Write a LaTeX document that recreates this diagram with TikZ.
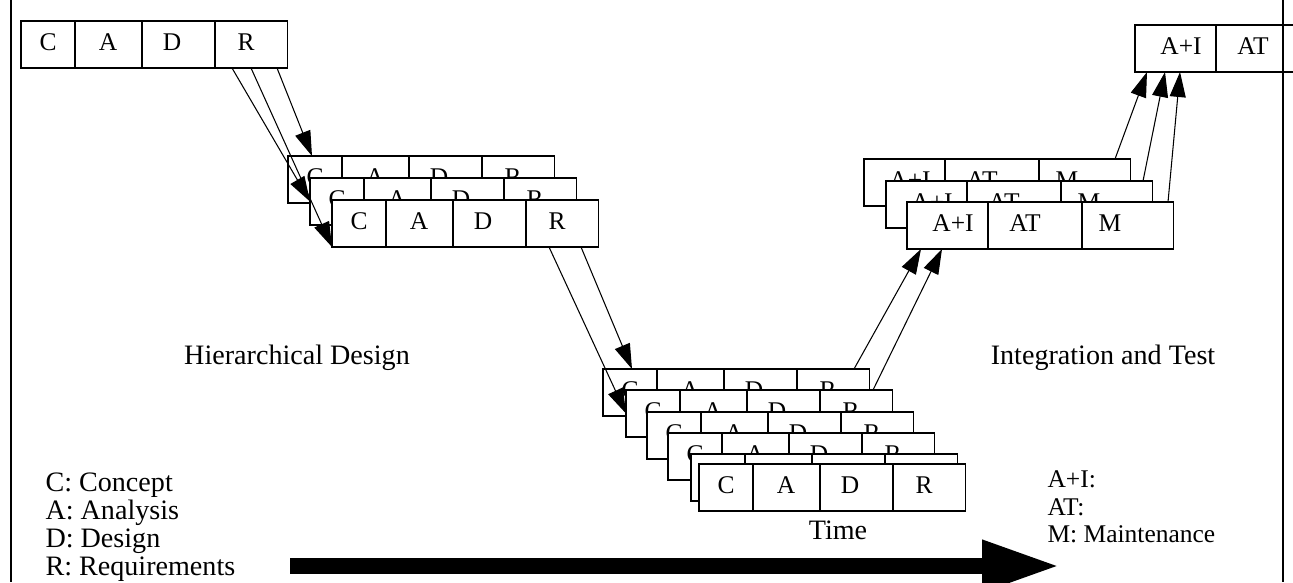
\documentclass[tikz,border=0pt]{standalone}
\usepackage{fontspec}
\setmainfont{Liberation Serif}
\usetikzlibrary{arrows.meta,calc}

\tikzset{
  phasebox/.style={draw, fill=white, minimum width=5.34cm, minimum height=0.94cm,
    inner sep=0pt, outer sep=0pt, anchor=north west},
  cell/.style={anchor=base, inner sep=0pt},
  flow/.style={-{Triangle[length=0.5cm,width=0.32cm]}},
  legend/.style={anchor=base west, inner sep=0pt},
  caption/.style={font=\fontsize{16}{18}\selectfont}
}

% design box: C A D R
\newcommand{\designbox}[3]{%
  \node[phasebox] (#1) at (#2,#3) {};
  \foreach \dx in {54,121,194}
    \draw ($(#1.north west)+(\dx,0)$) -- ($(#1.south west)+(\dx,0)$);
  \foreach \dx/\lbl [count=\k] in {27/C,87/A,151/D,225/R}
    \node[cell] (#1-\k) at ($(#1.north west)+(\dx,29)$) {\lbl};
}

% test box: A+I AT M
\newcommand{\testbox}[3]{%
  \node[phasebox] (#1) at (#2,#3) {};
  \foreach \dx in {81,175}
    \draw ($(#1.north west)+(\dx,0)$) -- ($(#1.south west)+(\dx,0)$);
  \foreach \dx/\lbl [count=\k] in {46/A+I,118/AT,203/M}
    \node[cell] (#1-\k) at ($(#1.north west)+(\dx,29)$) {\lbl};
}

\begin{document}
\begin{tikzpicture}[x=0.02cm, y=-0.02cm, line width=0.6pt,
    font=\fontsize{14.5}{16}\selectfont]
  \useasboundingbox (0,0) rectangle (1293,582);
  \clip (0,0) rectangle (1293,582);

  % top level
  \designbox{top}{21}{21}

  % hierarchical design
  \foreach \n/\x/\y in {h1/288/156, h2/310/178, h3/332/200}
    {\designbox{\n}{\x}{\y}}

  % lowest level
  \foreach \n/\x/\y in {b1/603/369, b2/626/390, b3/647/412, b4/668/433, b5/691/454, b6/699/464}
    {\designbox{\n}{\x}{\y}}

  % integration and test
  \foreach \n/\x/\y in {t1/864/159, t2/886/181, t3/907/202}
    {\testbox{\n}{\x}{\y}}

  % top level, cut by the page edge
  \node[phasebox] (it) at (1135,25) {};
  \draw ($(it.north west)+(81,0)$) -- ($(it.south west)+(81,0)$);
  \node[cell] (it-1) at ($(it.north west)+(46,29)$) {A+I};
  \node[cell] (it-2) at ($(it.north west)+(118,29)$) {AT};

  % arrows down
  \draw[flow] ($(top.south west)+(211,0)$) -- (h2.west);
  \draw[flow] ($(top.south west)+(230,0)$) -- (h3.south west);
  \draw[flow] ($(top.south west)+(256,0)$) -- ($(h1.north west)+(24,0)$);
  \draw[flow] ($(h3.south west)+(217,0)$) -- (b2.west);
  \draw[flow] ($(h3.south west)+(249,0)$) -- ($(b1.north west)+(29,0)$);

  % arrows up
  \draw[flow] ($(b1.north west)+(251,0)$) -- ($(t3.south west)+(14,0)$);
  \draw[flow] ($(b2.north west)+(247,0)$) -- ($(t3.south west)+(35,0)$);
  \draw[flow] ($(t1.north west)+(251,0)$) -- ($(it.south west)+(12,0)$);
  \draw[flow] ($(t2.north west)+(257,0)$) -- ($(it.south west)+(30,0)$);
  \draw[flow] ($(t3.north west)+(261,0)$) -- ($(it.south west)+(45,0)$);

  % labels
  \node[caption] (hier) at (297,358) {Hierarchical Design};
  \node[caption] (integ) at (1103,358) {Integration and Test};
  \node[caption] (time) at (838,530) {Time};

  % legends
  \foreach \lbl [count=\k] in {C: Concept, A: Analysis, D: Design, R: Requirements}
    \node[legend, font=\fontsize{16}{18}\selectfont] (def\k) at (45,463+28*\k) {\lbl};
  \foreach \lbl [count=\k] in {A+I:, AT:, M: Maintenance}
    \node[legend] (abb\k) at (1047,460+27.5*\k) {\lbl};

  % time arrow
  \coordinate (timeA) at (290,566);
  \coordinate (timeB) at (1060,566);
  \draw[line width=0.32cm, -{Triangle[length=1.56cm,width=0.96cm]}] (timeA) -- (timeB);

  % page frame
  \draw (11,0) -- (11,582);
  \draw (1283,0) -- (1283,582);
\end{tikzpicture}
\end{document}
